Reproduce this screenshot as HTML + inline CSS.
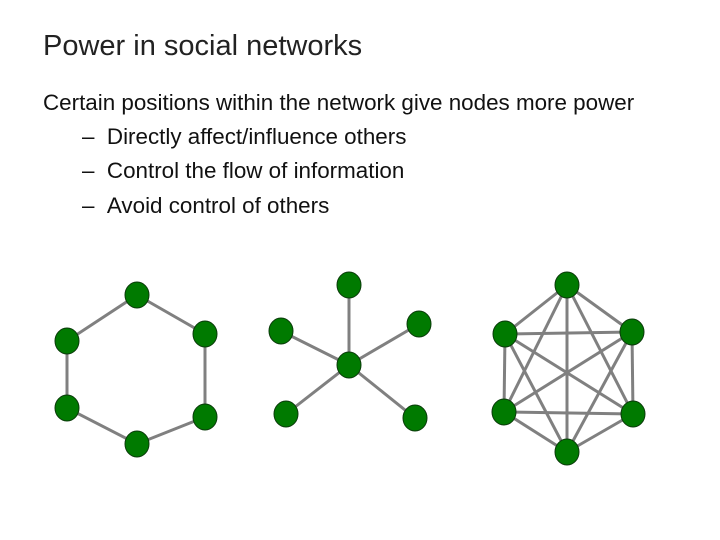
<!DOCTYPE html>
<html><head><style>
body{margin:0;width:720px;height:540px;background:#fff;font-family:"Liberation Sans",sans-serif;position:relative;overflow:hidden}
.t{position:absolute;left:43px;top:30px;font-size:29px;color:#222;white-space:nowrap}
.b{position:absolute;font-size:22.4px;color:#111;white-space:nowrap;line-height:26px}
</style></head><body>
<div class="t">Power in social networks</div>
<div class="b" style="left:43px;top:90px">Certain positions within the network give nodes more power</div>
<div class="b" style="left:82px;top:124px">–&nbsp;&nbsp;Directly affect/influence others</div>
<div class="b" style="left:82px;top:158px">–&nbsp;&nbsp;Control the flow of information</div>
<div class="b" style="left:82px;top:193px">–&nbsp;&nbsp;Avoid control of others</div>
<svg width="720" height="540" style="position:absolute;left:0;top:0">
<g stroke="#808080" stroke-width="3">
<polyline points="137,295 205,334 205,417 137,444 67,408 67,341 137,295" fill="none"/>
<line x1="349" y1="365" x2="349" y2="285"/><line x1="349" y1="365" x2="281" y2="331"/><line x1="349" y1="365" x2="419" y2="324"/><line x1="349" y1="365" x2="286" y2="414"/><line x1="349" y1="365" x2="415" y2="418"/>
<line x1="567" y1="285" x2="505" y2="334"/><line x1="567" y1="285" x2="632" y2="332"/><line x1="567" y1="285" x2="504" y2="412"/><line x1="567" y1="285" x2="633" y2="414"/><line x1="567" y1="285" x2="567" y2="452"/>
<line x1="505" y1="334" x2="632" y2="332"/><line x1="505" y1="334" x2="504" y2="412"/><line x1="505" y1="334" x2="633" y2="414"/><line x1="505" y1="334" x2="567" y2="452"/>
<line x1="632" y1="332" x2="504" y2="412"/><line x1="632" y1="332" x2="633" y2="414"/><line x1="632" y1="332" x2="567" y2="452"/>
<line x1="504" y1="412" x2="633" y2="414"/><line x1="504" y1="412" x2="567" y2="452"/><line x1="633" y1="414" x2="567" y2="452"/>
</g>
<g fill="#007a00" stroke="#0a3a0a" stroke-width="1">
<ellipse cx="137" cy="295" rx="12" ry="13"/><ellipse cx="205" cy="334" rx="12" ry="13"/><ellipse cx="205" cy="417" rx="12" ry="13"/><ellipse cx="137" cy="444" rx="12" ry="13"/><ellipse cx="67" cy="408" rx="12" ry="13"/><ellipse cx="67" cy="341" rx="12" ry="13"/>
<ellipse cx="349" cy="365" rx="12" ry="13"/><ellipse cx="349" cy="285" rx="12" ry="13"/><ellipse cx="281" cy="331" rx="12" ry="13"/><ellipse cx="419" cy="324" rx="12" ry="13"/><ellipse cx="286" cy="414" rx="12" ry="13"/><ellipse cx="415" cy="418" rx="12" ry="13"/>
<ellipse cx="567" cy="285" rx="12" ry="13"/><ellipse cx="505" cy="334" rx="12" ry="13"/><ellipse cx="632" cy="332" rx="12" ry="13"/><ellipse cx="504" cy="412" rx="12" ry="13"/><ellipse cx="633" cy="414" rx="12" ry="13"/><ellipse cx="567" cy="452" rx="12" ry="13"/>
</g>
</svg>
</body></html>
